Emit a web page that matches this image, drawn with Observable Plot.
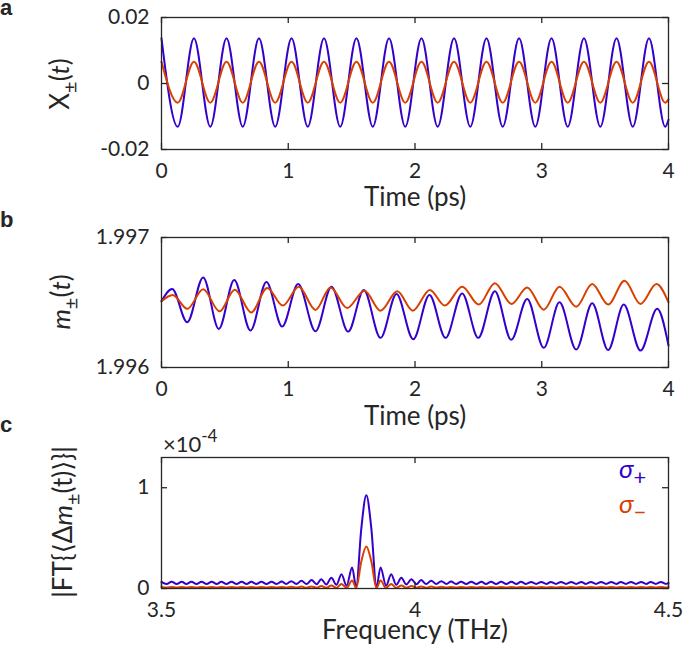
<!DOCTYPE html>
<html>
<head>
<meta charset="utf-8">
<script src="https://cdn.jsdelivr.net/npm/d3@7"></script>
<script src="https://cdn.jsdelivr.net/npm/@observablehq/plot@0.6"></script>
<style>
  html, body { margin: 0; padding: 0; background: #fff; }
  #wrap { position: relative; width: 685px; height: 649px; overflow: hidden; }
  #wrap svg { position: absolute; left: 0; }
</style>
</head>
<body>
<div id="wrap"></div>
<script>
// ---------------- Panel a: X±(t) extrema ----------------
const aTime = [0, 0.128, 0.256, 0.385, 0.513, 0.641, 0.769, 0.897, 1.026, 1.154, 1.282, 1.410,
  1.538, 1.667, 1.795, 1.923, 2.051, 2.179, 2.308, 2.436, 2.564, 2.692, 2.821, 2.949, 3.077,
  3.205, 3.333, 3.462, 3.590, 3.718, 3.846, 3.974, 4.0];
const aBlue = [0.0137, -0.0131, 0.0137, -0.0131, 0.0137, -0.0131, 0.0137, -0.0131, 0.0137, -0.0131,
  0.0137, -0.0131, 0.0137, -0.0131, 0.0137, -0.0131, 0.0137, -0.0131, 0.0137, -0.0131, 0.0137,
  -0.0131, 0.0137, -0.0131, 0.0137, -0.0131, 0.0137, -0.0131, 0.0137, -0.0131, 0.0137, -0.0131, -0.0110];
const aRed = [0.0066, -0.0058, 0.0066, -0.0058, 0.0066, -0.0058, 0.0066, -0.0058, 0.0066, -0.0058,
  0.0066, -0.0058, 0.0066, -0.0058, 0.0066, -0.0058, 0.0066, -0.0058, 0.0066, -0.0058, 0.0066,
  -0.0058, 0.0066, -0.0058, 0.0066, -0.0058, 0.0066, -0.0058, 0.0066, -0.0058, 0.0066, -0.0058, -0.0048];

// ---------------- Panel b: m±(t) extrema ----------------
const bTimeBlue = [0, 0.084, 0.203, 0.329, 0.452, 0.574, 0.702, 0.828, 0.952, 1.078, 1.215, 1.341,
  1.473, 1.596, 1.728, 1.854, 1.986, 2.114, 2.241, 2.372, 2.499, 2.630, 2.759, 2.885, 3.016, 3.140,
  3.272, 3.398, 3.524, 3.647, 3.779, 3.911, 4.0];
const bBlue = [1.99651, 1.996604, 1.996348, 1.996693, 1.996297, 1.996673, 1.996284, 1.996658, 1.996315,
  1.996642, 1.996279, 1.996622, 1.996276, 1.996596, 1.996228, 1.996566, 1.996217, 1.996558, 1.996228,
  1.996570, 1.996228, 1.996586, 1.996213, 1.996527, 1.996151, 1.996501, 1.996138, 1.996494, 1.996134,
  1.996484, 1.996130, 1.996451, 1.996169];
const bTimeRed = [0, 0.089, 0.203, 0.329, 0.458, 0.578, 0.708, 0.834, 0.957, 1.083, 1.215, 1.333,
  1.465, 1.602, 1.728, 1.860, 1.983, 2.117, 2.235, 2.372, 2.503, 2.630, 2.761, 2.885, 3.016, 3.140,
  3.272, 3.398, 3.524, 3.653, 3.779, 3.905, 4.0];
const bRed = [1.99651, 1.996558, 1.996451, 1.996601, 1.996432, 1.996599, 1.996424, 1.996612, 1.996476,
  1.996622, 1.996443, 1.996616, 1.996458, 1.996591, 1.996437, 1.996586, 1.996437, 1.996596, 1.996476,
  1.996622, 1.996484, 1.996649, 1.996489, 1.996616, 1.996445, 1.996622, 1.996468, 1.996642, 1.996484,
  1.996668, 1.996489, 1.996642, 1.996501];

// ---------------- Panel c: |FT| spectrum extrema (units of 1e-4) ----------------
const cFreq = [
  3.500, 3.510, 3.520, 3.530, 3.540, 3.549, 3.559, 3.569, 3.579, 3.589,
  3.599, 3.609, 3.618, 3.628, 3.638, 3.648, 3.658, 3.668, 3.677, 3.687,
  3.697, 3.707, 3.717, 3.727, 3.737, 3.746, 3.756, 3.766, 3.776, 3.786,
  3.796, 3.806, 3.815, 3.825, 3.835, 3.845, 3.855, 3.865, 3.876, 3.884,
  3.894, 3.904, 3.914,
  3.924, 3.932, 3.943, 3.953, 3.963, 3.973, 3.983, 3.993, 4.003, 4.012,
  4.022, 4.032, 4.042, 4.052, 4.062, 4.071, 4.081, 4.091, 4.101, 4.111,
  4.121, 4.131, 4.140, 4.150, 4.160, 4.170, 4.180, 4.190, 4.200, 4.209,
  4.219, 4.229, 4.239, 4.249, 4.259, 4.268, 4.278, 4.288, 4.298, 4.308,
  4.318, 4.328, 4.337, 4.347, 4.357, 4.367, 4.377, 4.387, 4.397, 4.406,
  4.416, 4.426, 4.436, 4.446, 4.456, 4.465, 4.475, 4.485, 4.495, 4.500];
const cBlue = [
  0.066, 0.045, 0.066, 0.045, 0.066, 0.045, 0.066, 0.045, 0.066, 0.045,
  0.066, 0.045, 0.066, 0.045, 0.067, 0.045, 0.067, 0.045, 0.067, 0.045,
  0.068, 0.045, 0.068, 0.045, 0.070, 0.045, 0.073, 0.044, 0.078, 0.044,
  0.084, 0.042, 0.093, 0.040, 0.106, 0.036, 0.142, 0.027, 0.208, 0.014,
  0.59, 0.925, 0.59,
  0.014, 0.208, 0.027, 0.142, 0.036, 0.106, 0.040, 0.093, 0.042, 0.084,
  0.044, 0.078, 0.044, 0.073, 0.045, 0.070, 0.045, 0.068, 0.045, 0.067,
  0.045, 0.067, 0.045, 0.066, 0.045, 0.066, 0.045, 0.066, 0.045, 0.066,
  0.045, 0.065, 0.045, 0.065, 0.045, 0.065, 0.045, 0.065, 0.045, 0.065,
  0.045, 0.065, 0.045, 0.065, 0.045, 0.065, 0.045, 0.065, 0.045, 0.065,
  0.045, 0.065, 0.045, 0.065, 0.045, 0.065, 0.045, 0.065, 0.045, 0.055];
const cRed = [
  0.015, 0.009, 0.015, 0.009, 0.015, 0.009, 0.015, 0.009, 0.015, 0.009,
  0.015, 0.009, 0.015, 0.009, 0.015, 0.009, 0.015, 0.009, 0.015, 0.009,
  0.015, 0.009, 0.015, 0.009, 0.016, 0.009, 0.017, 0.009, 0.019, 0.008,
  0.021, 0.008, 0.025, 0.007, 0.031, 0.006, 0.045, 0.005, 0.080, 0.004,
  0.265, 0.416, 0.265,
  0.004, 0.080, 0.005, 0.045, 0.006, 0.031, 0.007, 0.025, 0.008, 0.021,
  0.008, 0.019, 0.009, 0.017, 0.009, 0.016, 0.009, 0.015, 0.009, 0.015,
  0.009, 0.015, 0.009, 0.015, 0.009, 0.015, 0.009, 0.015, 0.009, 0.015,
  0.009, 0.015, 0.009, 0.015, 0.009, 0.015, 0.009, 0.015, 0.009, 0.015,
  0.009, 0.015, 0.009, 0.015, 0.009, 0.015, 0.009, 0.015, 0.009, 0.015,
  0.009, 0.015, 0.009, 0.015, 0.009, 0.015, 0.009, 0.015, 0.009, 0.012];

// ---------------- Ticks ----------------
const timeTicks = [0, 1, 2, 3, 4];
const aYTicks = [-0.02, 0, 0.02];
const bYTicks = [1.996, 1.997];
const cXTicks = [3.5, 4, 4.5];
const cYTicks = [0, 1];

// ---------------- Style ----------------
const INK = "#262626";
const BLUE = "#3300CC";
const RED = "#D94000";
const FONT = "Lato, 'DejaVu Sans', sans-serif";
const W = 685, ML = 161, MR = 17, TICK = 6;
const wrap = document.getElementById("wrap");

const toRows = (xs, ys) => xs.map((x, i) => ({x, y: ys[i]}));

function panel({top, height, mt, mb, xDomain, xTicks, xFmt, yDomain, yTicks, yFmt, series, xLabel, xLabelDy}) {
  const fh = height - mt - mb, fw = W - ML - MR;
  const tk = {stroke: INK, strokeWidth: 1.3};
  const svg = Plot.plot({
    width: W, height, marginTop: mt, marginBottom: mb, marginLeft: ML, marginRight: MR,
    style: {fontFamily: FONT, fontSize: "21px", color: INK, background: "none", overflow: "visible"},
    x: {domain: xDomain, ticks: xTicks, tickFormat: xFmt, tickSize: 0, tickPadding: 14, label: null},
    y: {domain: yDomain, ticks: yTicks, tickFormat: yFmt, tickSize: 0, tickPadding: 12, label: null},
    marks: [
      ...series.map(s => Plot.line(s.data, {x: "x", y: "y", stroke: s.color, strokeWidth: 2, curve: "monotone-x"})),
      Plot.frame({stroke: INK, strokeWidth: 1.3}),
      Plot.tickX(xTicks, {x: d => d, insetTop: fh - TICK, ...tk}),
      Plot.tickX(xTicks, {x: d => d, insetBottom: fh - TICK, ...tk}),
      Plot.tickY(yTicks, {y: d => d, insetRight: fw - TICK, ...tk}),
      Plot.tickY(yTicks, {y: d => d, insetLeft: fw - TICK, ...tk}),
      Plot.text([xLabel], {text: d => d, frameAnchor: "bottom", lineAnchor: "middle", dy: xLabelDy, fontSize: 26, fill: INK})
    ]
  });
  svg.style.top = top + "px";
  wrap.appendChild(svg);
  return svg;
}

function rich(svg, {x, y, rotate = 0, anchor = "start", size, weight = "normal", fill = INK, family = FONT, parts}) {
  const t = d3.select(svg).append("text")
    .attr("transform", `translate(${x},${y}) rotate(${rotate})`)
    .attr("text-anchor", anchor)
    .attr("font-family", family)
    .attr("font-size", size)
    .attr("font-weight", weight)
    .attr("fill", fill);
  for (const p of parts) {
    const s = t.append("tspan").text(p.t);
    if (p.it) s.attr("font-style", "italic");
    if (p.dy) s.attr("dy", p.dy);
    if (p.fs) s.attr("font-size", p.fs);
  }
  return t;
}

// Panel a
const svgA = panel({
  top: 0, height: 212, mt: 17, mb: 63,
  xDomain: [0, 4], xTicks: timeTicks, xFmt: d => String(d),
  yDomain: [-0.02, 0.02], yTicks: aYTicks, yFmt: d => d === 0 ? "0" : d.toFixed(2),
  series: [{data: toRows(aTime, aBlue), color: BLUE}, {data: toRows(aTime, aRed), color: RED}],
  xLabel: "Time (ps)", xLabelDy: 48
});
rich(svgA, {x: 0, y: 15, size: 22, weight: "bold", family: "'Liberation Sans', Arial, sans-serif", parts: [{t: "a"}]});
rich(svgA, {x: 69, y: 84, rotate: -90, anchor: "middle", size: 26, parts: [
  {t: "X"}, {t: "±", dy: 8, fs: 20}, {t: "(", dy: -8, fs: 26}, {t: "t", it: true}, {t: ")"}]});

// Panel b
const svgB = panel({
  top: 205, height: 225, mt: 32, mb: 63,
  xDomain: [0, 4], xTicks: timeTicks, xFmt: d => String(d),
  yDomain: [1.996, 1.997], yTicks: bYTicks, yFmt: d => d.toFixed(3),
  series: [{data: toRows(bTimeBlue, bBlue), color: BLUE}, {data: toRows(bTimeRed, bRed), color: RED}],
  xLabel: "Time (ps)", xLabelDy: 49
});
rich(svgB, {x: 0, y: 21.5, size: 22, weight: "bold", family: "'Liberation Sans', Arial, sans-serif", parts: [{t: "b"}]});
rich(svgB, {x: 70, y: 97, rotate: -90, anchor: "middle", size: 26, parts: [
  {t: "m", it: true}, {t: "±", dy: 8, fs: 20}, {t: "(", dy: -8, fs: 26}, {t: "t", it: true}, {t: ")"}]});

// Panel c
const svgC = panel({
  top: 412, height: 237, mt: 45, mb: 61,
  xDomain: [3.5, 4.5], xTicks: cXTicks, xFmt: d => String(d),
  yDomain: [0, 1.3], yTicks: cYTicks, yFmt: d => String(d),
  series: [{data: toRows(cFreq, cBlue), color: BLUE}, {data: toRows(cFreq, cRed), color: RED}],
  xLabel: "Frequency (THz)", xLabelDy: 42
});
rich(svgC, {x: 0, y: 20, size: 22, weight: "bold", family: "'Liberation Sans', Arial, sans-serif", parts: [{t: "c"}]});
rich(svgC, {x: 72, y: 110, rotate: -90, anchor: "middle", size: 26, parts: [
  {t: "|FT{⟨Δ"}, {t: "m", it: true}, {t: "±", dy: 8, fs: 20}, {t: "(t)⟩}|", dy: -8, fs: 26}]});
rich(svgC, {x: 163, y: 40, size: 22, parts: [{t: "×10"}, {t: "-4", dy: -10, fs: 17}]});
rich(svgC, {x: 619, y: 66, size: 26, fill: BLUE, parts: [{t: "σ", it: true}, {t: "+", dy: 7, fs: 22}]});
rich(svgC, {x: 619, y: 101, size: 26, fill: RED, parts: [{t: "σ", it: true}, {t: "−", dy: 7, fs: 22}]});
</script>
</body>
</html>
